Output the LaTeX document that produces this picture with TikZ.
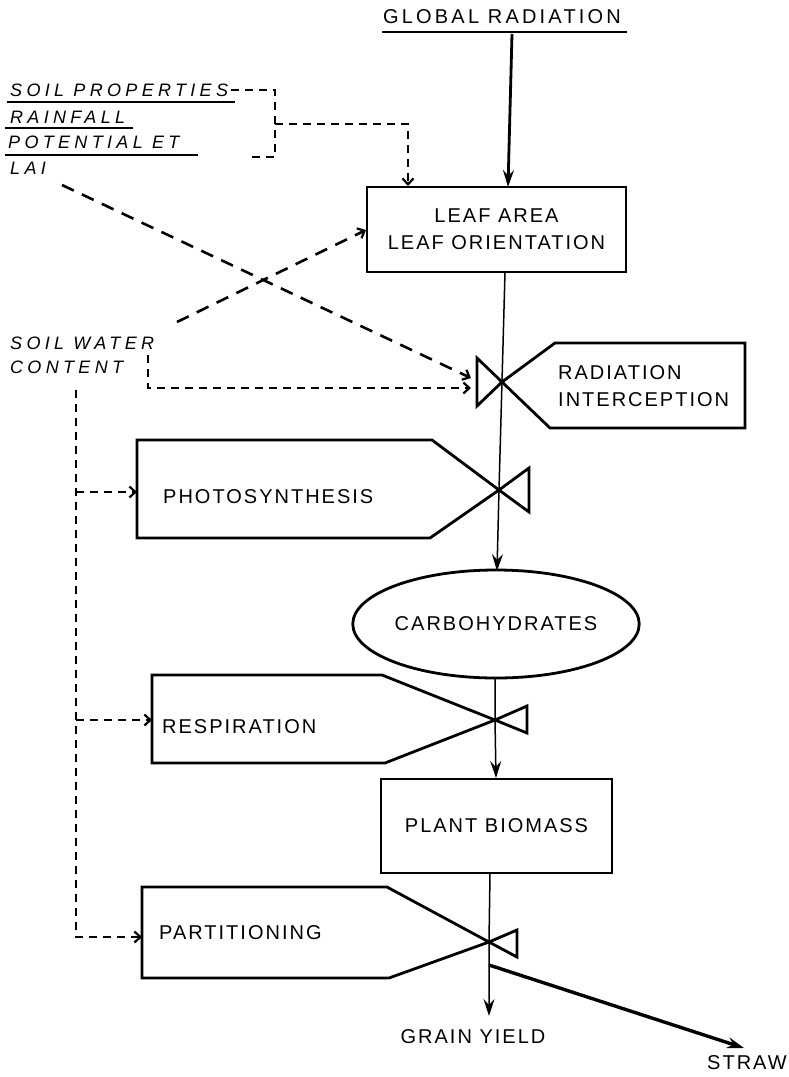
\documentclass[tikz,border=0pt]{standalone}
\usepackage{fontspec}
\setmainfont{Liberation Sans}
\newfontfamily\lab[LetterSpace=10]{Liberation Sans}
\newfontfamily\labw[LetterSpace=16]{Liberation Sans}
\newfontfamily\ilab[LetterSpace=24]{Liberation Sans}
\usetikzlibrary{arrows.meta,shapes.geometric}
\begin{document}
\begin{tikzpicture}[x=1pt,y=-1pt,
  txt/.style={inner sep=0pt,font=\lab\fontsize{20}{27}\selectfont},
  wtxt/.style={inner sep=0pt,font=\labw\fontsize{20}{27}\selectfont},
  itxt/.style={inner sep=0pt,font=\ilab\itshape\fontsize{18}{24}\selectfont},
  box/.style={draw,line width=2.6pt,inner sep=0pt},
  valve/.style={line width=2.8pt,line join=miter},
  uline/.style={line width=2.8pt},
  flow/.style={line width=1.5pt},
  heavytip/.style={-{Stealth[length=17pt,width=11pt,inset=6pt]}},
  dashline/.style={line width=2.6pt,dash pattern=on 8pt off 6pt},
  longdash/.style={line width=2.6pt,dash pattern=on 13pt off 9pt},
  dtip/.style={-{Straight Barb[length=6pt,width=11pt,line width=2.2pt]}}
]
\useasboundingbox (0,0) rectangle (788,1077);
\fill[white] (0,0) rectangle (788,1077);

% ---------- texts / boxes ----------
\node[wtxt] (global) at (502,17) {GLOBAL RADIATION};
\draw[uline] (382,32) -- (627,32);

\node[itxt,anchor=west] (sp)  at (10,90)  {SOIL PROPERTIES};
\node[itxt,anchor=west] (rf)  at (10,117) {RAINFALL};
\node[itxt,anchor=west] (pet) at (8,142)  {POTENTIAL ET};
\node[itxt,anchor=west] (lai) at (10,168) {LAI};
\draw[uline] (7,102) -- (235,102);
\draw[uline] (5,128) -- (133,128);
\draw[uline] (5,155) -- (198,155);

\node[itxt,anchor=west,align=left] (swc) at (10,355) {SOIL WATER\\CONTENT};

\node[box,txt,minimum width=259pt,minimum height=85pt,align=center]
  (leaf) at (496.5,229.5) {LEAF AREA\\LEAF ORIENTATION};

\node[txt,anchor=west,align=left] (radt) at (558,386) {RADIATION\\INTERCEPTION};
\node[txt,anchor=west] (phot) at (163,497) {PHOTOSYNTHESIS};
\node[txt,anchor=west] (resp) at (162,727) {RESPIRATION};
\node[txt,anchor=west] (part) at (159,933) {PARTITIONING};

\node[txt,draw,ellipse,line width=2.8pt,minimum width=232pt,minimum height=108pt,inner sep=0pt]
  (carb) at (496,624) {CARBOHYDRATES};

\node[box,txt,minimum width=231pt,minimum height=94pt]
  (pb) at (496.5,826) {PLANT BIOMASS};

\node[txt] (grain) at (473,1037) {GRAIN YIELD};
\node[txt,anchor=west] (straw) at (707,1063) {STRAW};

% ---------- valve shapes ----------
\coordinate (rx) at (502,382);
\coordinate (px) at (499,490);
\coordinate (sx) at (495,720);
\coordinate (tx) at (489,942);

\draw[valve] (rx) -- (555,343) -- (745,343) -- (745,428) -- (550,428) -- cycle;
\draw[valve] (rx) -- (477,358) -- (477,406) -- cycle;

\draw[valve] (px) -- (432,440) -- (137,440) -- (137,538) -- (430,538) -- cycle;
\draw[valve] (px) -- (529,468) -- (529,512) -- cycle;

\draw[valve] (sx) -- (382,675) -- (152,675) -- (152,763) -- (385,763) -- cycle;
\draw[valve] (sx) -- (527,706) -- (527,733) -- cycle;

\draw[valve] (tx) -- (387,887) -- (142,887) -- (142,978) -- (389,978) -- cycle;
\draw[valve] (tx) -- (517,930) -- (517,957) -- cycle;

% ---------- flow connectors ----------
\coordinate (g0) at (512,34);
\coordinate (g1) at (508,187);
\draw[line width=2.8pt,heavytip] (g0) -- (g1);

\coordinate (l0) at (505,272);
\coordinate (c0) at (497,571);
\draw[flow,heavytip] (l0) -- (rx) -- (px) -- (c0);

\coordinate (c1) at (495,678);
\coordinate (b0) at (496,778);
\draw[flow,heavytip] (c1) -- (sx) -- (b0);

\coordinate (b1) at (490,873);
\coordinate (gy) at (489,1016);
\draw[flow,heavytip] (b1) -- (tx) -- (gy);

\coordinate (s0) at (489,965);
\coordinate (s1) at (744,1048);
\draw[line width=3.4pt,heavytip] (s0) -- (s1);

% ---------- dashed connectors ----------
\coordinate (bt) at (275,90);
\coordinate (bm) at (275,124);
\coordinate (bb) at (275,157);
\coordinate (bl) at (250,157);
\coordinate (lt) at (408,186);
\draw[dashline] (sp.east) ++(3,0) -- (bt) -- (bb) -- (bl);
\draw[dashline,dtip] (bm) -| (lt);

\coordinate (lai0) at (62,185);
\coordinate (r1) at (471,378);
\draw[longdash,dtip] (lai0) -- (r1);

\coordinate (sw0) at (177,322);
\coordinate (lf) at (366,230);
\draw[longdash,dtip] (sw0) -- (lf);

\coordinate (sw1) at (148,355);
\coordinate (r2) at (471,388);
\draw[dashline,dtip] (sw1) |- (r2);

\coordinate (v0) at (76,390);
\coordinate (vp) at (137,492);
\coordinate (vr) at (152,720);
\coordinate (vt) at (142,937);
\draw[dashline,dtip] (v0) |- (vt);
\draw[dashline,dtip] (vp -| v0) -- (vp);
\draw[dashline,dtip] (vr -| v0) -- (vr);
\end{tikzpicture}
\end{document}
